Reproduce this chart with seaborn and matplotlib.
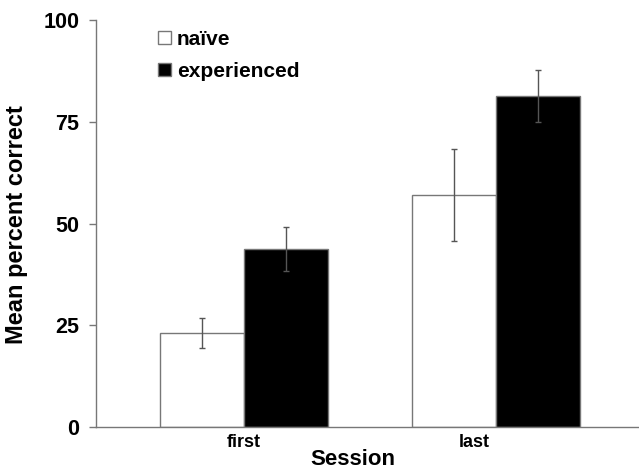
import matplotlib
matplotlib.use('Agg')

import pandas as pd
import matplotlib.pyplot as plt
import matplotlib.transforms as mtransforms
import seaborn as sns

# values
sessions = ["first", "last"]
groups = ["naïve", "experienced"]
naive_mean = [23.0, 57.0]
naive_err = [3.7, 11.3]
exp_mean = [43.7, 81.3]
exp_err = [5.4, 6.4]
y_ticks = [0, 25, 50, 75, 100]

df = pd.DataFrame({
    "session": sessions * 2,
    "group": [groups[0]] * 2 + [groups[1]] * 2,
    "mean": naive_mean + exp_mean,
    "err": naive_err + exp_err,
})

sns.set_theme(style="white")
plt.rcParams['font.family'] = ['Liberation Sans', 'DejaVu Sans']
plt.rcParams['text.color'] = 'black'
plt.rcParams['axes.labelcolor'] = 'black'

fig = plt.figure(figsize=(6.39, 4.70), dpi=100)
ax = fig.add_axes([96 / 639, 43 / 470, 1 - 96 / 639, 407 / 470])

sns.barplot(data=df, x="session", y="mean", hue="group", order=sessions,
            hue_order=groups, palette=["white", "black"], edgecolor="#777777",
            linewidth=1, width=0.667, errorbar=None, ax=ax)

# error bars on top of the seaborn bars
for cont, g in zip(ax.containers, groups):
    sub = df[df["group"] == g].set_index("session").loc[sessions]
    xs = [p.get_x() + p.get_width() / 2 for p in cont.patches]
    ax.errorbar(xs, sub["mean"], yerr=sub["err"], fmt="none",
                ecolor="#555555", elinewidth=1, capsize=2, capthick=1)

ax.set_ylim(0, 100)
ax.set_xlim(-0.587, 1.567)
ax.set_yticks(y_ticks)
ax.set_yticklabels([str(t) for t in y_ticks], fontsize=15.5, fontweight="bold")
ax.set_xticks(range(len(sessions)))
ax.set_xticklabels(sessions, fontsize=13, fontweight="bold")
ax.tick_params(axis="y", length=5, width=1, color="#777777", labelcolor="black",
               pad=7, left=True)
ax.tick_params(axis="x", length=0, pad=5, labelcolor="black")

# in the original the "last" label sits a bit left of its bar pair
lbl = ax.get_xticklabels()[1]
lbl.set_transform(lbl.get_transform() +
                  mtransforms.ScaledTranslation(-0.22, 0, fig.dpi_scale_trans))

ax.set_xlabel("Session", fontsize=16, fontweight="bold")
ax.set_ylabel("Mean percent correct", fontsize=17, fontweight="bold")
ax.xaxis.set_label_coords(0.473, -0.053)
ax.yaxis.set_label_coords(-0.125, 0.497)

for s in ["top", "right"]:
    ax.spines[s].set_visible(False)
for s in ["left", "bottom"]:
    ax.spines[s].set_color("#777777")
    ax.spines[s].set_linewidth(1)

handles, labels = ax.get_legend_handles_labels()
ax.legend(handles, labels, loc="upper left", bbox_to_anchor=(158 / 639, 1 - 30 / 470),
          bbox_transform=fig.transFigure, frameon=False, borderpad=0,
          borderaxespad=0, handlelength=0.6, handleheight=0.6,
          handletextpad=0.3, labelspacing=0.62,
          prop={"size": 15, "weight": "bold"})

plt.savefig("out.png", dpi=100)
plt.close()
